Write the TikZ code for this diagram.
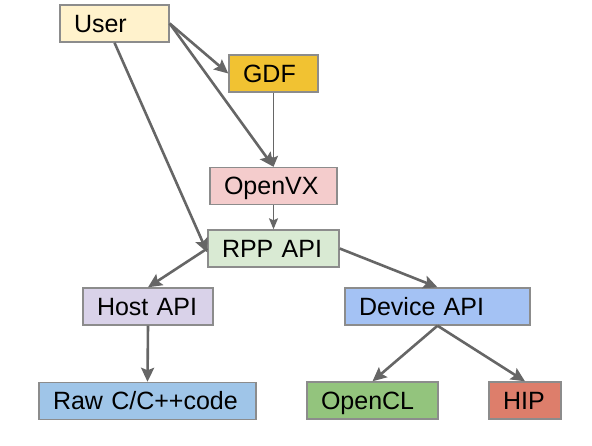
\documentclass[tikz,border=0pt]{standalone}
\usepackage{fontspec}
\setmainfont{Liberation Sans}
\usetikzlibrary{arrows.meta}
\definecolor{cuser}{HTML}{FFF2CC}
\definecolor{cgdf}{HTML}{F1C232}
\definecolor{copenvx}{HTML}{F4CCCC}
\definecolor{crpp}{HTML}{D9EAD3}
\definecolor{chost}{HTML}{D9D2E9}
\definecolor{cdevice}{HTML}{A4C2F4}
\definecolor{craw}{HTML}{9FC5E8}
\definecolor{copencl}{HTML}{93C47D}
\definecolor{chip}{HTML}{DD7E6B}
\definecolor{cborder}{HTML}{8C8C8C}
\definecolor{carrow}{HTML}{666666}
\tikzset{
  boxnode/.style args={#1/#2}{draw=cborder, line width=1.4pt, fill=#1,
    rectangle, inner xsep=14pt, inner ysep=0pt,
    text width=#2pt-28pt, align=left, minimum height=37pt,
    text height=17.9pt, text depth=0pt,
    font=\fontsize{25}{30}\selectfont},
  bigarrow/.style={draw=carrow, line width=2.6pt,
    -{Stealth[length=14pt,width=13pt,inset=2.5pt]}},
  thinarrow/.style={draw=carrow, line width=1.4pt,
    -{Stealth[length=11pt,width=9pt,inset=2pt]}}
}
\begin{document}
\begin{tikzpicture}[x=1pt,y=-1pt]
\useasboundingbox (0,0) rectangle (592,445);
\node[boxnode=cuser/109]    (User)   at (114.5,23.5)  {User};
\node[boxnode=cgdf/89]      (GDF)    at (273.5,73.5)  {GDF};
\node[boxnode=copenvx/127]  (OpenVX) at (273.5,186)   {OpenVX};
\node[boxnode=crpp/131]     (RPP)    at (273.5,248.5) {RPP API};
\node[boxnode=chost/130]    (Host)   at (148,306.5)   {Host API};
\node[boxnode=cdevice/185]  (Device) at (437.5,306.5) {Device API};
\node[boxnode=craw/217]     (Raw)    at (147.5,401)   {Raw C/C++code};
\node[boxnode=copencl/131]  (OpenCL) at (372.5,400.5) {OpenCL};
\node[boxnode=chip/72]      (HIP)    at (525,400.5)   {HIP};

\draw[thinarrow] (GDF.south) -- (OpenVX.north);
\draw[thinarrow] (OpenVX.south) -- (RPP.north);
\draw[bigarrow] (User.east) -- (GDF.west);
\draw[bigarrow] (User.east) -- (OpenVX.north);
\draw[bigarrow] (User.south) -- ([yshift=-4pt]RPP.west);
\draw[bigarrow] (RPP.west) -- (Host.north);
\draw[bigarrow] (RPP.east) -- (Device.north);
\draw[bigarrow] (Host.south) -- (Raw.north);
\draw[bigarrow] (Device.south) -- (OpenCL.north);
\draw[bigarrow] (Device.south) -- (HIP.north);
\end{tikzpicture}
\end{document}
